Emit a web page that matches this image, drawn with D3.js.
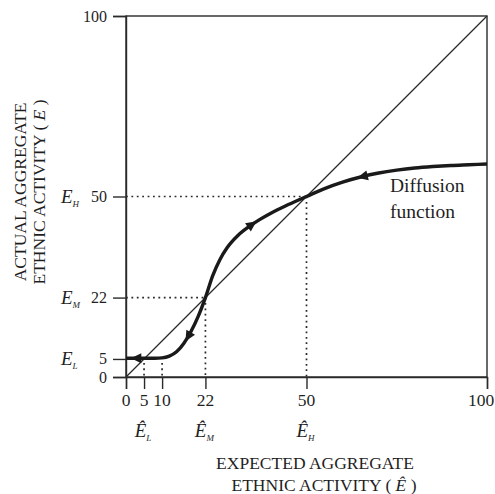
<!DOCTYPE html>
<html>
<head>
<meta charset="utf-8">
<script src="https://cdn.jsdelivr.net/npm/d3@7"></script>
<style>
  body { margin: 0; background: #fff; }
  text { font-family: "Liberation Serif", "Times New Roman", serif; fill: #1f1f1f; }
</style>
</head>
<body>
<script>
'use strict'

var w = 495;
var h = 494;

// axis ticks and their equilibrium names
var xTicks = [0, 5, 10, 22, 50, 100];
var yTicks = [0, 5, 22, 50, 100];
var ySubs = ["", "L", "M", "H", ""];
var hatTicks = [5, 22, 50];
var hatSubs = ["L", "M", "H"];

// dotted guides
var equilibria = [22, 50];
var lowGuides = [5, 10];
var lowLevel = 5;

// diffusion function
var diffX = [0, 4, 8, 10, 12, 14, 16, 18, 20, 22, 24, 26, 28, 31, 34, 37, 40, 44, 50, 55, 60, 65, 70, 75, 80, 85, 90, 95, 100];
var diffY = [5.2, 5.2, 5.2, 5.3, 5.8, 7.0, 9.3, 12.6, 16.8, 22, 28, 32.5, 35.8, 39.2, 41.6, 43.6, 45.3, 47.3, 50, 52.2, 54, 55.4, 56.5, 57.3, 57.9, 58.3, 58.6, 58.8, 59];

// arrowheads on the curve: x position and direction (+1 = rightwards)
var arrowX = [3, 17.3, 34.8, 65.7];
var arrowDir = [-1, -1, 1, -1];

var margin = {left: 126, right: 8, top: 16, bottom: 117};

var x = d3.scaleLinear().domain([0, 100]).range([margin.left, w - margin.right]);
var y = d3.scaleLinear().domain([0, 100]).range([h - margin.bottom, margin.top]);

var svg = d3.select("body")
  .append("svg")
  .attr("width", w)
  .attr("height", h);

var ink = "#2a2a2a";

// frame box
svg.append("rect")
  .attr("x", x(0))
  .attr("y", y(100))
  .attr("width", x(100) - x(0))
  .attr("height", y(0) - y(100))
  .attr("fill", "none")
  .attr("stroke", ink)
  .attr("stroke-width", 1.4);

// axes
var xAxis = d3.axisBottom(x).tickValues(xTicks).tickSize(12).tickFormat("");
var yAxis = d3.axisLeft(y).tickValues(yTicks).tickSize(13).tickFormat("");

svg.append("g")
  .attr("transform", "translate(0," + y(0) + ")")
  .call(xAxis)
  .call(function(g) {
    g.select(".domain").attr("stroke", ink).attr("stroke-width", 1.4);
    g.selectAll(".tick line").attr("stroke", ink).attr("stroke-width", 1.4);
  });

svg.append("g")
  .attr("transform", "translate(" + x(0) + ",0)")
  .call(yAxis)
  .call(function(g) {
    g.select(".domain").attr("stroke", ink).attr("stroke-width", 1.4);
    g.selectAll(".tick line").attr("stroke", ink).attr("stroke-width", 1.4);
  });

// 45 degree line
svg.append("line")
  .attr("x1", x(0)).attr("y1", y(0))
  .attr("x2", x(100)).attr("y2", y(100))
  .attr("stroke", ink)
  .attr("stroke-width", 1.3);

// dotted guides to the equilibria
var dots = "1.8,3.6";
equilibria.forEach(function(v) {
  svg.append("line")
    .attr("x1", x(0)).attr("y1", y(v))
    .attr("x2", x(v)).attr("y2", y(v))
    .attr("stroke", ink).attr("stroke-width", 1.7)
    .attr("stroke-dasharray", dots);
  svg.append("line")
    .attr("x1", x(v)).attr("y1", y(v))
    .attr("x2", x(v)).attr("y2", y(0))
    .attr("stroke", ink).attr("stroke-width", 1.7)
    .attr("stroke-dasharray", dots);
});
lowGuides.forEach(function(v) {
  svg.append("line")
    .attr("x1", x(v)).attr("y1", y(lowLevel) + 4)
    .attr("x2", x(v)).attr("y2", y(0))
    .attr("stroke", ink).attr("stroke-width", 1.7)
    .attr("stroke-dasharray", dots);
});

// diffusion function
var pts = diffX.map(function(d, i) { return [d, diffY[i]]; });
var line = d3.line()
  .x(function(d) { return x(d[0]); })
  .y(function(d) { return y(d[1]); })
  .curve(d3.curveMonotoneX);

var curve = svg.append("path")
  .datum(pts)
  .attr("d", line)
  .attr("fill", "none")
  .attr("stroke", "#1a1a1a")
  .attr("stroke-width", 3.4);

// arrowheads: find the point on the path with the given x
var node = curve.node();
var total = node.getTotalLength();
function lengthAtX(px) {
  var lo = 0, hi = total;
  for (var k = 0; k < 40; k++) {
    var mid = (lo + hi) / 2;
    if (node.getPointAtLength(mid).x < px) lo = mid; else hi = mid;
  }
  return lo;
}
arrowX.forEach(function(v, i) {
  var l = lengthAtX(x(v));
  var p = node.getPointAtLength(l);
  var a = node.getPointAtLength(Math.max(0, l - 2));
  var b = node.getPointAtLength(Math.min(total, l + 2));
  var ang = Math.atan2(b.y - a.y, b.x - a.x) * 180 / Math.PI;
  if (arrowDir[i] < 0) ang += 180;
  svg.append("path")
    .attr("d", "M6,0L-4.5,-5L-4.5,5Z")
    .attr("fill", "#1a1a1a")
    .attr("transform", "translate(" + p.x + "," + p.y + ") rotate(" + ang + ")");
});

// tick labels
svg.append("g").selectAll("text")
  .data(xTicks)
  .enter()
  .append("text")
  .attr("x", function(d) { return d === 100 ? x(d) - 6 : x(d); })
  .attr("y", 406)
  .attr("text-anchor", "middle")
  .style("font-size", "17.5px")
  .text(function(d) { return d; });

svg.append("g").selectAll("text")
  .data(yTicks)
  .enter()
  .append("text")
  .attr("x", 107)
  .attr("y", function(d) { return y(d) + 5.5; })
  .attr("text-anchor", "end")
  .style("font-size", "16px")
  .text(function(d) { return d; });

// E_L, E_M, E_H beside the y ticks
yTicks.forEach(function(d, i) {
  if (!ySubs[i]) return;
  var t = svg.append("text")
    .attr("x", 61)
    .attr("y", y(d) + 6)
    .style("font-size", "19px")
    .style("font-style", "italic");
  t.append("tspan").text("E");
  t.append("tspan")
    .attr("dy", 4)
    .style("font-size", "9px")
    .text(ySubs[i]);
});

// Ê_L, Ê_M, Ê_H under the x ticks
hatTicks.forEach(function(d, i) {
  var t = svg.append("text")
    .attr("x", x(d) - 1)
    .attr("y", 437)
    .attr("text-anchor", "middle")
    .style("font-size", "19px")
    .style("font-style", "italic");
  t.append("tspan").text("\u00CA");
  t.append("tspan")
    .attr("dy", 4)
    .style("font-size", "9px")
    .text(hatSubs[i]);
});

// axis titles
var xt = svg.append("text")
  .attr("text-anchor", "middle")
  .style("font-size", "17.5px");
xt.append("tspan").attr("x", 315).attr("y", 469).text("EXPECTED AGGREGATE");
var xt2 = xt.append("tspan").attr("x", 324).attr("y", 491);
xt2.append("tspan").text("ETHNIC ACTIVITY  ( ");
xt2.append("tspan").style("font-style", "italic").text("\u00CA");
xt2.append("tspan").text(" )");

var yt = svg.append("text")
  .attr("transform", "translate(0,192) rotate(-90)")
  .attr("text-anchor", "middle")
  .style("font-size", "17.5px");
yt.append("tspan").attr("x", 0).attr("y", 26).text("ACTUAL AGGREGATE");
var yt2 = yt.append("tspan").attr("x", 0).attr("y", 45);
yt2.append("tspan").text("ETHNIC ACTIVITY  ( ");
yt2.append("tspan").style("font-style", "italic").text("E");
yt2.append("tspan").text(" )");

// curve label
var lab = svg.append("text").style("font-size", "19.5px");
lab.append("tspan").attr("x", 390).attr("y", 192).text("Diffusion");
lab.append("tspan").attr("x", 390).attr("y", 218).text("function");
</script>
</body>
</html>
